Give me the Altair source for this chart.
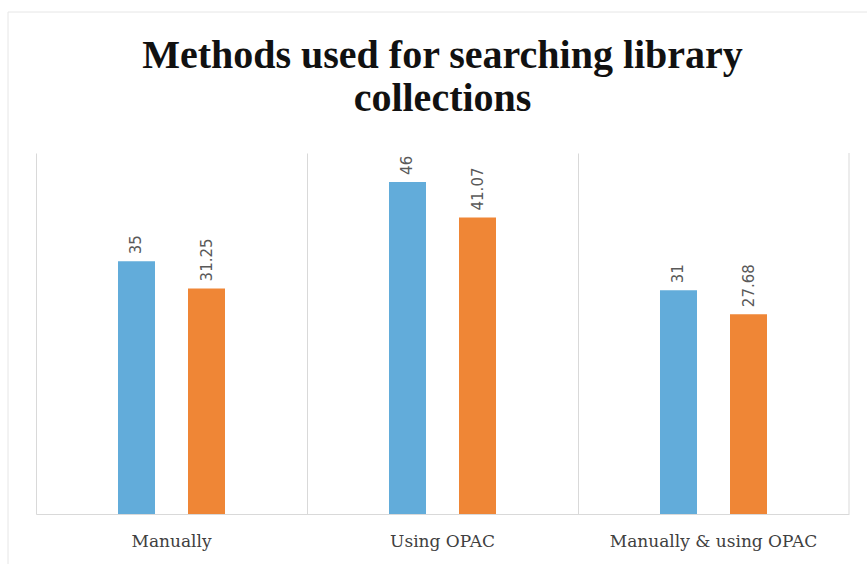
import altair as alt
import pandas as pd

categories = ["Manually", "Using OPAC", "Manually & using OPAC"]
series_names = ["Series 1", "Series 2"]
series1_values = [35, 46, 31]
series2_values = [31.25, 41.07, 27.68]
bar_colors = ["#62ACDA", "#EF8636"]

rows = []
for c, v1, v2 in zip(categories, series1_values, series2_values):
    rows.append({"category": c, "series": series_names[0], "value": v1})
    rows.append({"category": c, "series": series_names[1], "value": v2})
df = pd.DataFrame(rows)

W, H = 813, 361
PAD_L, PAD_T, PAD_R, PAD_B = 36, 153, 18, 50
BORDER_X, BORDER_Y = 8, 12

x_enc = alt.X(
    "category:N",
    sort=categories,
    scale=alt.Scale(paddingInner=0, paddingOuter=0),
    axis=alt.Axis(
        title=None,
        labelAngle=0,
        ticks=False,
        grid=True,
        bandPosition=0,
        gridColor="#d9d9d9",
        domainColor="#d9d9d9",
        labelFont="DejaVu Serif",
        labelFontSize=17,
        labelColor="#404040",
        labelPadding=19,
        labelLimit=400,
    ),
)
xoff_enc = alt.XOffset(
    "series:N", sort=series_names,
    scale=alt.Scale(paddingInner=0.129, paddingOuter=1),
)
y_enc = alt.Y("value:Q", scale=alt.Scale(domain=[0, 50]), axis=None)

base = alt.Chart(df)

bars = base.mark_bar(width=37).encode(
    x=x_enc,
    xOffset=xoff_enc,
    y=y_enc,
    color=alt.Color("series:N", sort=series_names,
                    scale=alt.Scale(domain=series_names, range=bar_colors),
                    legend=None),
)

labels = base.mark_text(
    angle=270, align="left", baseline="middle", dx=7,
    font="DejaVu Sans", fontSize=15, color="#595959",
).encode(
    x=x_enc,
    xOffset=xoff_enc,
    y=y_enc,
    text=alt.Text("value:Q", format="~g"),
)

deco = alt.Data(values=[{"k": 1}])
right_grid = alt.Chart(deco).mark_rule(color="#d9d9d9").encode(
    x=alt.value(W), y=alt.value(0), y2=alt.value(H)
)
outer_left = alt.Chart(deco).mark_rule(color="#e6e6e6").encode(
    x=alt.value(BORDER_X - PAD_L), y=alt.value(BORDER_Y - PAD_T),
    y2=alt.value(564 - PAD_T)
)
outer_top = alt.Chart(deco).mark_rule(color="#e6e6e6").encode(
    x=alt.value(BORDER_X - PAD_L), x2=alt.value(867 - PAD_L),
    y=alt.value(BORDER_Y - PAD_T)
)

# title is placed relative to the top of the layer's bounds (the outer border at y=-141)
chart = alt.layer(bars, labels, right_grid, outer_left, outer_top).properties(
    width=W,
    height=H,
    background="white",
    autosize=alt.AutoSizeParams(type="none"),
    padding={"left": PAD_L, "top": PAD_T, "right": PAD_R, "bottom": PAD_B},
    title=alt.TitleParams(
        text=["Methods used for searching library", "collections"],
        font="Liberation Serif",
        fontSize=40,
        fontWeight="bold",
        color="#111111",
        anchor="middle",
        frame="group",
        lineHeight=43,
        offset=-107,
    ),
).configure_view(stroke=None)

chart.save("out.html", embed_options={"renderer": "svg", "actions": False})
